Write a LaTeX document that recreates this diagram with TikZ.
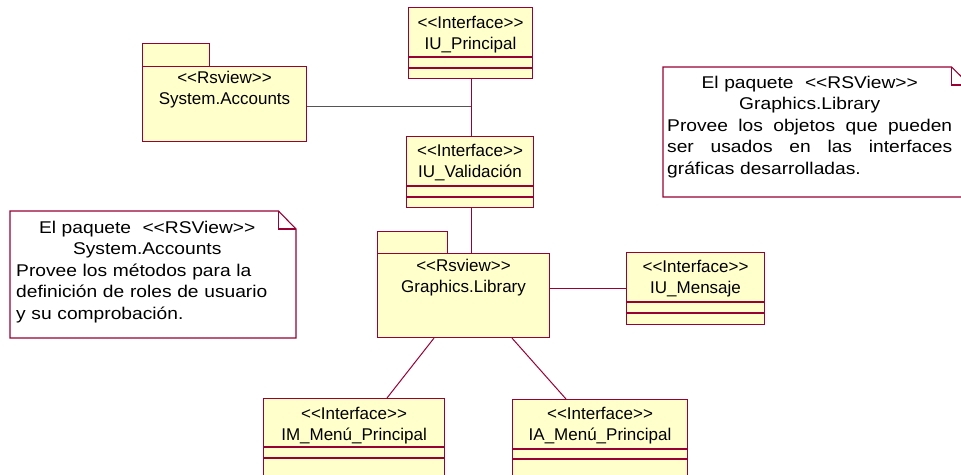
\documentclass[tikz,border=0pt]{standalone}
\usepackage{fontspec}
\newfontfamily\clsfont{Liberation Sans}
\newfontfamily\notefont{Liberation Sans}[FakeStretch=1.13]
\definecolor{umlred}{RGB}{153,0,51}
\definecolor{umlfill}{RGB}{255,255,204}
\definecolor{linkgray}{RGB}{85,85,85}
% stereotype guillemets written as plain angle brackets
\newcommand\stereo[1]{<\kern0pt<#1>\kern0pt>}
\tikzset{
  umlbox/.style={draw=umlred, fill=umlfill, line width=1.1pt, inner sep=0pt, anchor=north west},
  umlline/.style={draw=umlred, line width=1.1pt},
  assoc/.style={draw=umlred, line width=1pt},
  graylink/.style={draw=linkgray, line width=1pt},
  clstext/.style={font=\clsfont\fontsize{17}{21}\selectfont, align=center, inner sep=0pt},
  notetext/.style={font=\notefont\fontsize{17}{21.5}\selectfont, align=left, inner sep=0pt, anchor=north west},
}
\begin{document}
\begin{tikzpicture}[x=1pt, y=-1pt]
\useasboundingbox (0,0) rectangle (961,474);

% ---- interface classes ----
\node[umlbox, minimum width=124pt, minimum height=71pt] (princ) at (408,7) {};
\node[umlbox, minimum width=127pt, minimum height=71pt] (valid) at (406,136) {};
\node[umlbox, minimum width=138pt, minimum height=72pt] (mens) at (626,252) {};
\node[umlbox, minimum width=181pt, minimum height=100pt] (im) at (263,398) {};
\node[umlbox, minimum width=175pt, minimum height=100pt] (ia) at (512,399) {};

\foreach \c/\a/\b in {princ/50/61, valid/50/61, mens/50/61, im/49/60, ia/50/60}{
  \draw[umlline] ([yshift=-\a pt]\c.north west) -- ([yshift=-\a pt]\c.north east);
  \draw[umlline] ([yshift=-\b pt]\c.north west) -- ([yshift=-\b pt]\c.north east);
}

\node[clstext] (princT) at ([yshift=-27.5pt]princ.north) {\stereo{Interface}\\IU\_Principal};
\node[clstext] (validT) at ([yshift=-26.5pt]valid.north) {\stereo{Interface}\\IU\_Validación};
\node[clstext] (mensT) at ([yshift=-27pt]mens.north) {\stereo{Interface}\\IU\_Mensaje};
\node[clstext] (imT) at ([yshift=-27.5pt]im.north) {\stereo{Interface}\\IM\_Menú\_Principal};
\node[clstext] (iaT) at ([yshift=-27pt]ia.north) {\stereo{Interface}\\IA\_Menú\_Principal};

% ---- packages ----
\node[umlbox, minimum width=67pt, minimum height=23pt] (sysaccTab) at (142,43) {};
\node[umlbox, minimum width=164pt, minimum height=75pt] (sysacc) at (142,66) {};
\node[clstext] (sysaccT) at ([yshift=-24pt]sysacc.north) {\stereo{Rsview}\\System.Accounts};

\node[umlbox, minimum width=70pt, minimum height=22pt] (glibTab) at (377,231) {};
\node[umlbox, minimum width=172pt, minimum height=84pt] (glib) at (377,253) {};
\node[clstext] (glibT) at ([yshift=-25pt]glib.north) {\stereo{Rsview}\\Graphics.Library};

% ---- connectors ----
\coordinate (j) at (471,106);
\draw[assoc] ([xshift=1pt]princ.south) -- ([xshift=1pt]princ.south |- valid.north);
\draw[graylink] (j -| sysacc.east) -- (j);
\draw[assoc] ([xshift=1.5pt]valid.south) -- ([xshift=1.5pt]valid.south |- glib.north);
\draw[assoc] (mens.west -| glib.east) -- (mens.west);
\draw[assoc] ([xshift=57pt]glib.south west) -- ([xshift=124pt]im.north west);
\draw[assoc] ([xshift=135pt]glib.south west) -- ([xshift=54pt]ia.north west);

% ---- notes ----
\draw[umlline, fill=white] (10,211) -- (278.5,211) -- (296,229) -- (296,338) -- (10,338) -- cycle;
\draw[umlline] (278.5,211) |- (296,229);
\node[notetext, text width=262pt] (noteA) at (16,220.5) {%
  \makebox[\linewidth]{El paquete\ \ \stereo{RSView}}\\
  \makebox[\linewidth]{System.Accounts}\\
  Provee los métodos para la\\
  definición de roles de usuario\\
  y su comprobación.};

\draw[umlline, fill=white] (663,67) -- (951.5,67) -- (970,85) -- (970,197) -- (663,197) -- cycle;
\draw[umlline] (951.5,67) |- (970,85);
\node[notetext, text width=285pt] (noteB) at (667,75.5) {%
  \makebox[\linewidth]{El paquete\ \ \stereo{RSView}}\\
  \makebox[\linewidth]{Graphics.Library}\\
  \makebox[\linewidth][l]{Provee\hfill los\hfill objetos\hfill que\hfill pueden}\\
  \makebox[\linewidth][l]{ser\hfill usados\hfill en\hfill las\hfill interfaces}\\
  gráficas desarrolladas.};
\end{tikzpicture}
\end{document}
